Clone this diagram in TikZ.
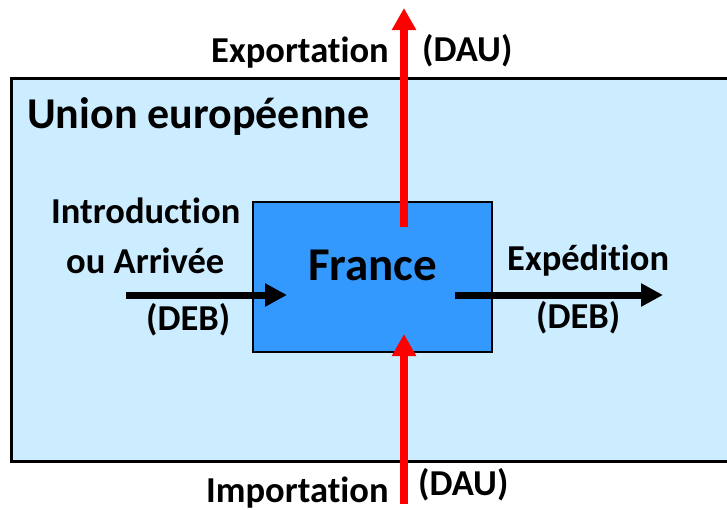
\documentclass[tikz,border=0pt]{standalone}
\usepackage{fontspec}
\setmainfont{Carlito}[Ligatures=NoCommon]
\usetikzlibrary{arrows.meta}
\definecolor{euBlue}{RGB}{204,236,255}
\definecolor{frBlue}{RGB}{51,153,255}
\definecolor{flowRed}{RGB}{255,0,0}
\tikzset{
    txt/.style={font=\bfseries\fontsize{36.5}{40}\selectfont, inner sep=0pt, anchor=base west},
    blackflow/.style={line width=7pt, draw=black, -{Triangle[length=22pt,width=22pt]}},
    redflow/.style={line width=7.5pt, draw=flowRed, -{Triangle[length=22pt,width=23pt]}}
}
\begin{document}
\begin{tikzpicture}[x=1pt,y=-1pt]
    \useasboundingbox (0,0) rectangle (727,509);
    \clip (0,0) rectangle (727,509);

    \node[draw=black, line width=3pt, fill=euBlue, anchor=north west, minimum width=740pt, minimum height=383pt, outer sep=0pt] (eu) at (11,78) {};
    \node[draw=black, line width=2pt, fill=frBlue, minimum width=239pt, minimum height=150pt] (france) at (372.5,277) {};

    \node[txt, font=\bfseries\fontsize{44}{48}\selectfont] (union) at (27,128) {Union europ\'eenne};
    \node[txt, font=\bfseries\fontsize{47}{50}\selectfont, anchor=base] (franceLbl) at (372.5,280) {France};

    \node[txt] (exportLbl) at (211,62) {Exportation};
    \node[txt] (exportDau) at (422,61) {(DAU)};
    \node[txt] (importLbl) at (206,502) {Importation};
    \node[txt] (importDau) at (418,495) {(DAU)};
    \node[txt] (introLbl) at (51,223) {Introduction};
    \node[txt] (arriveeLbl) at (66,273) {ou Arriv\'ee};
    \node[txt] (inDeb) at (146,330) {(DEB)};
    \node[txt] (expedLbl) at (507,270) {Exp\'edition};
    \node[txt] (outDeb) at (536,328) {(DEB)};

    \coordinate (exBottom) at (404,227);
    \coordinate (exTop) at (404,8);
    \coordinate (imBottom) at (404,504);
    \coordinate (imTop) at (404,334);
    \coordinate (inStart) at (126,295);
    \coordinate (inEnd) at (287,295);
    \coordinate (outStart) at (455,295);
    \coordinate (outEnd) at (663,295);

    \draw [redflow](exBottom) -- (exTop);
    \draw [redflow](imBottom) -- (imTop);
    \draw [blackflow](inStart) -- (inEnd);
    \draw [blackflow](outStart) -- (outEnd);

\end{tikzpicture}
\end{document}
